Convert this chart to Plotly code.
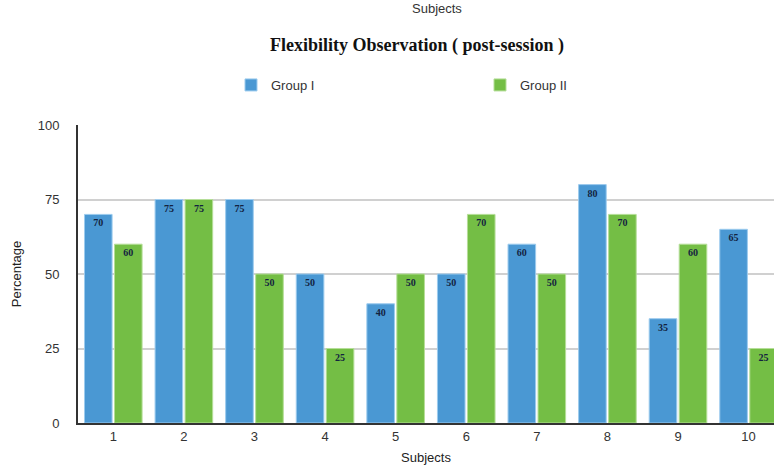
import plotly.graph_objects as go

subjects = ["1", "2", "3", "4", "5", "6", "7", "8", "9", "10"]
group1 = [70, 75, 75, 50, 40, 50, 60, 80, 35, 65]
group2 = [60, 75, 50, 25, 50, 70, 50, 70, 60, 25]
y_ticks = [0, 25, 50, 75, 100]

W, H = 774, 469
blue = "#4A98D3"
green = "#74BE45"

fig = go.Figure()
for name, vals, col, edge in [("Group I", group1, blue, "#9CCBEE"),
                              ("Group II", group2, green, "#B5DE98")]:
    fig.add_trace(go.Bar(
        x=subjects, y=vals, name=name,
        marker=dict(color=col, line=dict(color=edge, width=1)),
        text=[str(v) for v in vals],
        textposition="inside", insidetextanchor="end", textangle=0,
        constraintext="none",
        textfont=dict(family="Liberation Serif", size=10, color="#13233F", weight="bold"),
    ))

fig.update_layout(
    width=W, height=H,
    margin=dict(l=78, r=0, t=125, b=46),
    paper_bgcolor="white", plot_bgcolor="white",
    barmode="group", bargap=0.15, bargroupgap=0.08,
    font=dict(family="Liberation Sans", size=13, color="#333333"),
    title=dict(text="<b>Flexibility Observation ( post-session )</b>",
               font=dict(family="Liberation Serif", size=18, color="#111111"),
               x=417 / W, xanchor="center", y=1 - 45 / H, yanchor="middle",
               xref="container", yref="container"),
    legend=dict(orientation="h", x=231 / W, xanchor="left", xref="container",
                y=1 - 85 / H, yanchor="middle", yref="container",
                entrywidth=204, entrywidthmode="pixels",
                font=dict(size=13, color="#333333"), traceorder="normal"),
    xaxis=dict(range=[-0.5, 9.36], showline=True, linecolor="#333333", linewidth=2,
               ticks="", showgrid=False, tickfont=dict(size=13, color="#333333"),
               title=dict(text="Subjects", font=dict(size=13, color="#222222"), standoff=10)),
    yaxis=dict(range=[0, 100], tickvals=y_ticks, showline=True, linecolor="#333333",
               linewidth=2, gridcolor="#D0D0D0", gridwidth=1.5, zeroline=False,
               tickfont=dict(size=13, color="#333333"), ticks="", ticklabelstandoff=14,
               title=dict(text="Percentage", font=dict(size=13, color="#222222"), standoff=13)),
)

fig.add_annotation(text="Subjects", xref="paper", yref="paper", x=(437 - 78) / (W - 78),
                   y=1 + (125 - 9) / (H - 125 - 46), yanchor="middle", showarrow=False,
                   font=dict(size=13, color="#333333"))

fig.write_html("out.html")
